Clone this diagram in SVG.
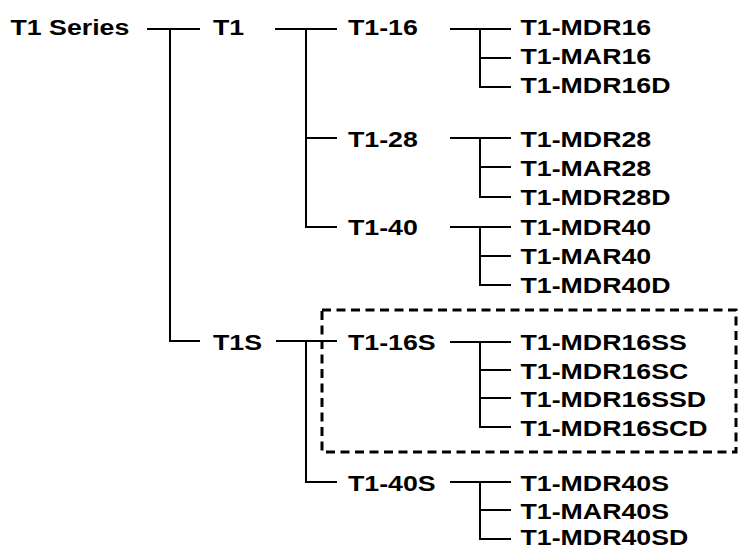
<svg xmlns="http://www.w3.org/2000/svg" width="738" height="550" viewBox="0 0 738 550">
<style>
.t{font-family:"Liberation Sans",Arial,Helvetica,sans-serif;font-weight:bold;font-size:22px;fill:#000}
.c{fill:none;stroke:#000;stroke-width:2}
.box{fill:none;stroke:#000;stroke-width:3;stroke-dasharray:9 5.5}
</style>
<rect width="738" height="550" fill="#fff"/>
<g id="connectors">
<path class="c" d="M147 29H200M170 29V341H200"/>
<path class="c" d="M275 29H337M306 29V227H337M306 138H337"/>
<path class="c" d="M276 341H337M306 341V482H337"/>
<path class="c" d="M450 29H511M480 29V87H511M480 58H511"/>
<path class="c" d="M450 138H511M480 138V197H511M480 167H511"/>
<path class="c" d="M450 227H511M480 227V285H511M480 256H511"/>
<path class="c" d="M450 342H511M480 342V427H511M480 370H511M480 398H511"/>
<path class="c" d="M450 482H511M480 482V539H511M480 510H511"/>
</g>
<g id="group-box"><rect class="box" x="322" y="310" width="414" height="142"/></g>
<g id="n-t1series"><text class="t" transform="translate(10.5,35) scale(1.215,1)">T1 Series</text></g>
<g id="n-t1"><text class="t" transform="translate(213,35) scale(1.215,1)">T1</text></g>
<g id="n-t1s"><text class="t" transform="translate(213,350) scale(1.215,1)">T1S</text></g>
<g id="n-t1-16"><text class="t" transform="translate(348,35) scale(1.215,1)">T1-16</text></g>
<g id="n-t1-28"><text class="t" transform="translate(348,146.5) scale(1.215,1)">T1-28</text></g>
<g id="n-t1-40"><text class="t" transform="translate(348,234.5) scale(1.215,1)">T1-40</text></g>
<g id="n-t1-16s"><text class="t" transform="translate(348,350) scale(1.215,1)">T1-16S</text></g>
<g id="n-t1-40s"><text class="t" transform="translate(348,490.5) scale(1.215,1)">T1-40S</text></g>
<g id="n-mdr16"><text class="t" transform="translate(520.5,35) scale(1.215,1)">T1-MDR16</text></g>
<g id="n-mar16"><text class="t" transform="translate(520.5,64) scale(1.215,1)">T1-MAR16</text></g>
<g id="n-mdr16d"><text class="t" transform="translate(520.5,92.5) scale(1.215,1)">T1-MDR16D</text></g>
<g id="n-mdr28"><text class="t" transform="translate(520.5,146.5) scale(1.215,1)">T1-MDR28</text></g>
<g id="n-mar28"><text class="t" transform="translate(520.5,175.5) scale(1.215,1)">T1-MAR28</text></g>
<g id="n-mdr28d"><text class="t" transform="translate(520.5,205) scale(1.215,1)">T1-MDR28D</text></g>
<g id="n-mdr40"><text class="t" transform="translate(520.5,234.5) scale(1.215,1)">T1-MDR40</text></g>
<g id="n-mar40"><text class="t" transform="translate(520.5,263.5) scale(1.215,1)">T1-MAR40</text></g>
<g id="n-mdr40d"><text class="t" transform="translate(520.5,292.5) scale(1.215,1)">T1-MDR40D</text></g>
<g id="n-mdr16ss"><text class="t" transform="translate(520.5,350) scale(1.215,1)">T1-MDR16SS</text></g>
<g id="n-mdr16sc"><text class="t" transform="translate(520.5,378.5) scale(1.215,1)">T1-MDR16SC</text></g>
<g id="n-mdr16ssd"><text class="t" transform="translate(520.5,407) scale(1.215,1)">T1-MDR16SSD</text></g>
<g id="n-mdr16scd"><text class="t" transform="translate(520.5,435.5) scale(1.215,1)">T1-MDR16SCD</text></g>
<g id="n-mdr40s"><text class="t" transform="translate(520.5,490.5) scale(1.215,1)">T1-MDR40S</text></g>
<g id="n-mar40s"><text class="t" transform="translate(520.5,518.5) scale(1.215,1)">T1-MAR40S</text></g>
<g id="n-mdr40sd"><text class="t" transform="translate(520.5,545) scale(1.215,1)">T1-MDR40SD</text></g>
</svg>
